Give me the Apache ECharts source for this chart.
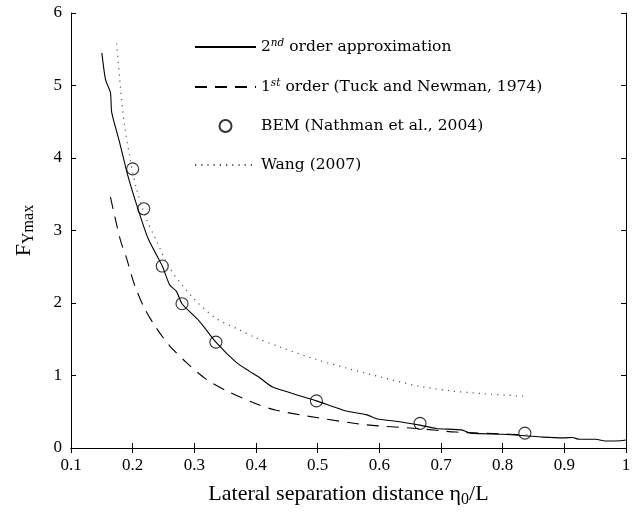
<!DOCTYPE html>
<html>
<head>
<meta charset="utf-8">
<script src="https://cdn.jsdelivr.net/npm/echarts@6/dist/echarts.min.js"></script>
<style>
  html, body { margin: 0; padding: 0; background: #fff; }
  #chart { width: 637px; height: 513px; }
</style>
</head>
<body>
<div id="chart"></div>
<script>
// 2nd order approximation (solid)
const secondX = [0.150, 0.156, 0.164, 0.166, 0.179, 0.192, 0.210, 0.225, 0.248, 0.260, 0.271, 0.280, 0.308, 0.335, 0.368, 0.389, 0.406, 0.427, 0.498, 0.546, 0.579, 0.597, 0.627, 0.666, 0.692, 0.733, 0.749, 0.800, 0.836, 0.865, 0.900, 0.913, 0.924, 0.951, 0.968, 0.992, 1.0];
const secondY = [5.45, 5.08, 4.90, 4.63, 4.21, 3.76, 3.26, 2.89, 2.51, 2.25, 2.16, 1.99, 1.75, 1.46, 1.18, 1.06, 0.97, 0.84, 0.65, 0.51, 0.46, 0.40, 0.37, 0.315, 0.27, 0.25, 0.205, 0.19, 0.17, 0.15, 0.14, 0.145, 0.12, 0.12, 0.096, 0.10, 0.11];
// 1st order (Tuck and Newman, 1974) (dashed)
const firstX = [0.164, 0.180, 0.190, 0.203, 0.219, 0.238, 0.260, 0.287, 0.319, 0.352, 0.400, 0.433, 0.498, 0.579, 0.660, 0.724, 0.811, 0.840];
const firstY = [3.46, 2.87, 2.62, 2.25, 1.93, 1.66, 1.41, 1.18, 0.95, 0.79, 0.61, 0.52, 0.42, 0.32, 0.27, 0.22, 0.19, 0.18];
// BEM (Nathman et al., 2004) (circles)
const bemX = [0.200, 0.218, 0.248, 0.280, 0.335, 0.498, 0.666, 0.836];
const bemY = [3.85, 3.30, 2.51, 1.99, 1.46, 0.65, 0.34, 0.205];
// Wang (2007) (dotted)
const wangX = [0.174, 0.180, 0.187, 0.195, 0.206, 0.222, 0.238, 0.260, 0.298, 0.335, 0.373, 0.400, 0.443, 0.498, 0.552, 0.606, 0.660, 0.714, 0.768, 0.841];
const wangY = [5.58, 4.99, 4.44, 4.03, 3.58, 3.16, 2.87, 2.48, 2.07, 1.79, 1.63, 1.52, 1.38, 1.22, 1.09, 0.97, 0.86, 0.79, 0.75, 0.71];

const legendLabels = {
  '2nd': '{t|2}{sup|nd}{t| order approximation}',
  '1st': '{t|1}{sup|st}{t| order (Tuck and Newman, 1974)}',
  'BEM': '{t|BEM (Nathman et al., 2004)}',
  'Wang': '{t|Wang (2007)}'
};

const pairs = (xs, ys) => xs.map((x, i) => [x, ys[i]]);

const serif = 'Liberation Serif';
const legendFont = 'DejaVu Serif';

const chart = echarts.init(document.getElementById('chart'));

const tickAxisX = {
  type: 'value', min: 0.1, max: 1, interval: 0.1,
  axisLine: { show: true, lineStyle: { color: '#000', width: 1 } },
  axisTick: { show: true, inside: true, length: 5, lineStyle: { color: '#000' } },
  splitLine: { show: false }
};
const tickAxisY = {
  type: 'value', min: 0, max: 6, interval: 1,
  axisLine: { show: true, lineStyle: { color: '#000', width: 1 } },
  axisTick: { show: true, inside: true, length: 5, lineStyle: { color: '#000' } },
  splitLine: { show: false }
};

// hide the marker drawn in the middle of line legend icons
const lineItem = (name) => ({ name, itemStyle: { opacity: 0 } });

chart.setOption({
  animation: false,
  backgroundColor: '#fff',
  grid: { left: 71, right: 11, top: 13, bottom: 62, show: false },
  legend: {
    data: [lineItem('2nd'), lineItem('1st'), { name: 'BEM' }, lineItem('Wang')],
    orient: 'vertical',
    left: 189,
    top: 33,
    bottom: 'auto',
    itemWidth: 61,
    itemHeight: 12,
    itemGap: 23,
    formatter: (name) => legendLabels[name],
    textStyle: {
      rich: {
        t: { fontFamily: legendFont, fontSize: 15.5, color: '#000' },
        sup: { fontFamily: legendFont, fontSize: 10.5, fontStyle: 'italic', color: '#000', verticalAlign: 'top', padding: [0, 0, 7, 0] }
      }
    }
  },
  xAxis: [
    Object.assign({}, tickAxisX, {
      position: 'bottom',
      name: '{t|Lateral separation distance η}{sub|0}{t|/L}',
      nameLocation: 'middle',
      nameGap: 32,
      nameTextStyle: {
        rich: {
          t: { fontFamily: serif, fontSize: 22, color: '#000' },
          sub: { fontFamily: serif, fontSize: 16, color: '#000', padding: [12, 0, 0, 0] }
        }
      },
      axisLabel: {
        show: true, margin: 9,
        fontFamily: serif, fontSize: 17, color: '#000',
        formatter: (v) => (Math.abs(v - 1) < 1e-9 ? '1' : v.toFixed(1))
      }
    }),
    Object.assign({}, tickAxisX, { position: 'top', axisLabel: { show: false } })
  ],
  yAxis: [
    Object.assign({}, tickAxisY, {
      position: 'left',
      name: '{t|F}{sub|Ymax}',
      nameLocation: 'middle',
      nameGap: 34,
      nameRotate: 90,
      nameTextStyle: {
        rich: {
          t: { fontFamily: serif, fontSize: 22, color: '#000' },
          sub: { fontFamily: serif, fontSize: 16, color: '#000', padding: [10, 0, 0, 0] }
        }
      },
      axisLabel: {
        show: true, margin: 9,
        fontFamily: serif, fontSize: 17, color: '#000'
      }
    }),
    Object.assign({}, tickAxisY, { position: 'right', axisLabel: { show: false } })
  ],
  series: [
    {
      name: '2nd', type: 'line', data: pairs(secondX, secondY),
      showSymbol: false, symbol: 'none', smooth: 0.2,
      lineStyle: { color: '#000', width: 1.1, type: 'solid' },
      itemStyle: { color: '#000' }
    },
    {
      name: '1st', type: 'line', data: pairs(firstX, firstY),
      showSymbol: false, symbol: 'none', smooth: 0.3,
      lineStyle: { color: '#000', width: 1.1, type: [12, 8] },
      itemStyle: { color: '#000' }
    },
    {
      name: 'BEM', type: 'scatter', data: pairs(bemX, bemY),
      symbol: 'circle', symbolSize: 12,
      itemStyle: { color: 'transparent', borderColor: '#000', borderWidth: 1.1 }
    },
    {
      name: 'Wang', type: 'line', data: pairs(wangX, wangY),
      showSymbol: false, symbol: 'none', smooth: 0.3,
      lineStyle: { color: '#555', width: 1.2, type: [1.2, 5] },
      itemStyle: { color: '#555' }
    }
  ]
});
</script>
</body>
</html>
